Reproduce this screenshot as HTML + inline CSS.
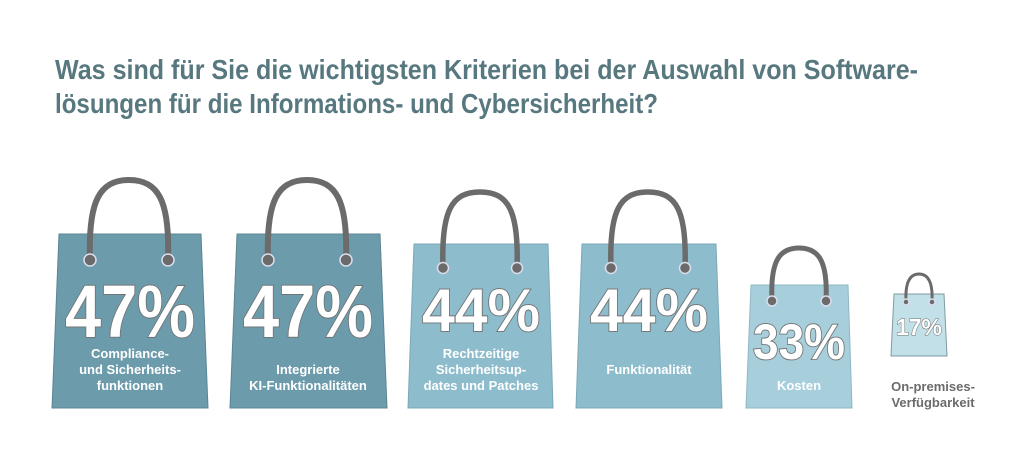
<!DOCTYPE html>
<html><head><meta charset="utf-8"><style>
html,body{margin:0;padding:0;background:#fff;}
svg{display:block;}
text{font-family:"Liberation Sans",sans-serif;font-weight:bold;}
.p{fill:#fff;stroke:#707070;stroke-width:1.8;paint-order:stroke;}
.l{fill:#fff;font-size:13px;text-anchor:middle;}
.h{fill:none;stroke:#6b6b6b;stroke-linecap:round;}
.ho{fill:#6b6b6b;stroke:#dde;stroke-width:1.5;}
</style></head><body>
<svg width="1024" height="459" viewBox="0 0 1024 459">
<text x="55" y="79" font-size="28" fill="#587880" textLength="863" lengthAdjust="spacingAndGlyphs">Was sind für Sie die wichtigsten Kriterien bei der Auswahl von Software-</text>
<text x="55" y="113" font-size="28" fill="#587880" textLength="603" lengthAdjust="spacingAndGlyphs">lösungen für die Informations- und Cybersicherheit?</text>

<!-- bag1 -->
<polygon points="59,234 201,234 208,408 52,408" fill="#6c9bab" stroke="#5b8594" stroke-width="1"/>
<path class="h" stroke-width="6" d="M90,260 C88,200 100,180 129,180 C158,180 170,200 168,260"/>
<circle class="ho" cx="90" cy="260" r="6"/><circle class="ho" cx="168" cy="260" r="6"/>
<text class="p" x="130" y="337" font-size="74" text-anchor="middle" textLength="130" lengthAdjust="spacingAndGlyphs">47%</text>
<text class="l" x="130" y="358">Compliance-</text><text class="l" x="130" y="374">und Sicherheits-</text><text class="l" x="130" y="390">funktionen</text>

<!-- bag2 -->
<polygon points="237,234 380,234 387,408 230,408" fill="#6c9bab" stroke="#5b8594" stroke-width="1"/>
<path class="h" stroke-width="6" d="M268,260 C266,200 278,180 307,180 C336,180 348,200 346,260"/>
<circle class="ho" cx="268" cy="260" r="6"/><circle class="ho" cx="346" cy="260" r="6"/>
<text class="p" x="308" y="337" font-size="74" text-anchor="middle" textLength="130" lengthAdjust="spacingAndGlyphs">47%</text>
<text class="l" x="308" y="374">Integrierte</text><text class="l" x="308" y="390">KI-Funktionalitäten</text>

<!-- bag3 -->
<polygon points="414,244 548,244 553,408 408,408" fill="#8dbccc" stroke="#7aa9b8" stroke-width="1"/>
<path class="h" stroke-width="5.5" d="M443,268 C441,210 452,192 480,192 C508,192 519,210 517,268"/>
<circle class="ho" cx="443" cy="268" r="5.5"/><circle class="ho" cx="517" cy="268" r="5.5"/>
<text class="p" x="481" y="331" font-size="60" text-anchor="middle" textLength="118" lengthAdjust="spacingAndGlyphs">44%</text>
<text class="l" x="481" y="358">Rechtzeitige</text><text class="l" x="481" y="374">Sicherheitsup-</text><text class="l" x="481" y="390">dates und Patches</text>

<!-- bag4 -->
<polygon points="582,244 716,244 722,408 576,408" fill="#8dbccc" stroke="#7aa9b8" stroke-width="1"/>
<path class="h" stroke-width="5.5" d="M611,268 C609,210 620,192 648,192 C676,192 687,210 685,268"/>
<circle class="ho" cx="611" cy="268" r="5.5"/><circle class="ho" cx="685" cy="268" r="5.5"/>
<text class="p" x="649" y="331" font-size="60" text-anchor="middle" textLength="118" lengthAdjust="spacingAndGlyphs">44%</text>
<text class="l" x="649" y="374">Funktionalität</text>

<!-- bag5 -->
<polygon points="751,285 848,285 852,408 746,408" fill="#a6cfdb" stroke="#8fb8c5" stroke-width="1"/>
<path class="h" stroke-width="5" d="M772,301 C770,260 780,248 799,248 C818,248 828,260 826,301"/>
<circle class="ho" cx="772" cy="301" r="5"/><circle class="ho" cx="826" cy="301" r="5"/>
<text class="p" x="799" y="359" font-size="50" text-anchor="middle" textLength="92" lengthAdjust="spacingAndGlyphs">33%</text>
<text class="l" x="799" y="390">Kosten</text>

<!-- bag6 -->
<polygon points="894,294 944,294 947,356 891,356" fill="#c2e0e8" stroke="#7f9aa3" stroke-width="1"/>
<path class="h" stroke-width="3" d="M906,302 C905,282 910,274 919,274 C928,274 933,282 932,302"/>
<circle class="ho" cx="906" cy="302" r="3" stroke-width="1"/><circle class="ho" cx="932" cy="302" r="3" stroke-width="1"/>
<text class="p" x="919" y="335" font-size="23" text-anchor="middle" textLength="46" lengthAdjust="spacingAndGlyphs" style="stroke-width:1">17%</text>
<text x="933" y="391" font-size="13" fill="#6b6b6b" text-anchor="middle">On-premises-</text>
<text x="933" y="407" font-size="13" fill="#6b6b6b" text-anchor="middle">Verfügbarkeit</text>
</svg>
</body></html>
